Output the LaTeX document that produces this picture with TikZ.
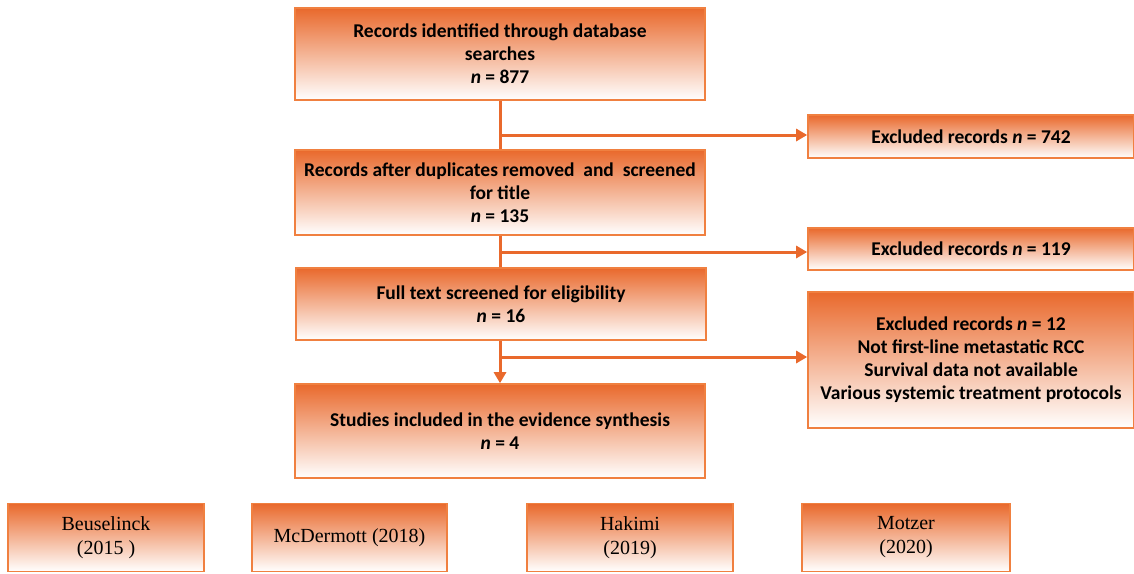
\documentclass[tikz,border=0pt]{standalone}
\usepackage{fontspec}
\setmainfont{Carlito}
\newfontfamily\studyfont{Liberation Serif}
\usetikzlibrary{arrows.meta,positioning}
\definecolor{flowor}{RGB}{233,105,44}
\definecolor{flowedge}{RGB}{240,128,64}

\begin{document}
\begin{tikzpicture}[x=1pt,y=-1pt,
  box/.style={draw=flowedge, line width=1.6pt, top color=flowor, middle color=flowor!50!white,
    bottom color=white, align=center, inner sep=0pt,
    font=\fontsize{19.5}{23}\selectfont\bfseries},
  study/.style={box, font=\studyfont\fontsize{20}{24}\selectfont},
  a/.style={draw=flowor, line width=3pt, -{Triangle[length=11pt,width=12pt]}},
  ln/.style={draw=flowor, line width=3pt}]
\useasboundingbox (0,0) rectangle (1134,573);
% main column
\node[box, minimum width=410pt, minimum height=92pt] (rec) at (500,54)
  {Records identified through database\\searches\\\textit{n} = 877};
\node[box, minimum width=410pt, minimum height=85pt] (dup) at (500,192.5)
  {Records after duplicates removed\ \ and\ \ screened\\for title\\\textit{n} = 135};
\node[box, minimum width=410pt, minimum height=72pt] (full) at (501,304)
  {Full text screened for eligibility\\\textit{n} = 16};
\node[box, minimum width=410pt, minimum height=94pt] (incl) at (500,431)
  {Studies included in the evidence synthesis\\\textit{n} = 4};
% excluded
\node[box, minimum width=326pt, minimum height=43pt] (ex1) at (971,136.5)
  {Excluded records \textit{n} = 742};
\node[box, minimum width=326pt, minimum height=42pt] (ex2) at (971,249)
  {Excluded records \textit{n} = 119};
\node[box, minimum width=326pt, minimum height=136pt] (ex3) at (971,360)
  {Excluded records \textit{n} = 12\\Not first-line metastatic RCC\\
   Survival data not available\\Various systemic treatment protocols};
% included studies
\node[study, minimum width=196pt, minimum height=68pt] (s1) at (106,537.5) {Beuselinck\\(2015 )};
\node[study, minimum width=195pt, minimum height=68pt] (s2) at (349.5,537.5) {McDermott (2018)};
\node[study, minimum width=206pt, minimum height=68pt] (s3) at (630,537.5) {Hakimi\\(2019)};
\node[study, minimum width=208pt, minimum height=68pt] (s4) at (906,537.5) {Motzer\\(2020)};
% connectors
\draw[ln] (rec.south) -- (dup.north);
\draw[ln] (dup.south) -- (full.north -| dup.south);
\draw[a] (full.south -| incl.north) -- (incl.north);
\draw[a] (rec.south |- 0,135) -- (ex1.west |- 0,135);
\draw[a] (dup.south |- 0,252) -- (ex2.west |- 0,252);
\draw[a] (incl.north |- 0,357) -- (ex3.west |- 0,357);
\end{tikzpicture}
\end{document}
